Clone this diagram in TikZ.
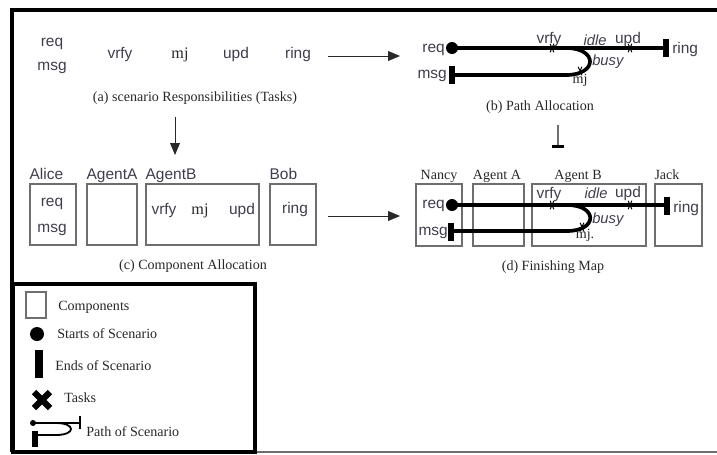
\documentclass[tikz,border=0pt]{standalone}
\usepackage{fontspec}
\setmainfont{Liberation Serif}
\newfontfamily\arialfont{Liberation Sans}
\usetikzlibrary{arrows.meta}

\definecolor{labelgray}{RGB}{62,62,78}
\definecolor{capgray}{RGB}{40,40,40}
\definecolor{boxgray}{RGB}{110,110,110}

\tikzset{
	lbl/.style={font=\arialfont\fontsize{11}{12}\selectfont, text=labelgray, inner sep=0pt},
	ilbl/.style={lbl, font=\arialfont\itshape\fontsize{10.5}{12}\selectfont},
	captxt/.style={font=\fontsize{10}{12}\selectfont, text=capgray, inner sep=0pt},
	comp/.style={draw=boxgray, line width=0.9pt, inner sep=0pt},
	scen/.style={line width=2.6pt, black},
	startdot/.style={circle, fill=black, inner sep=0pt, minimum size=0.3cm},
	endbar/.style={rectangle, fill=black, inner sep=0pt, minimum width=0.15cm, minimum height=0.45cm},
	arr/.style={-{Triangle[length=8.5pt,width=7pt]}, line width=0.6pt, capgray},
	frame/.style={line width=2.2pt, black},
	tsk/.pic={\draw[line width=0.7pt] (-1.3pt,-3pt) -- (1.3pt,3pt) (1.3pt,-3pt) -- (-1.3pt,3pt);}
}

\begin{document}
\begin{tikzpicture}[x=0.025cm, y=-0.025cm]
	\useasboundingbox (0,0) rectangle (717,454);

	% Outer frame.
	\draw[frame] (12,452) -- (12,10) -- (717,10);
	\draw[boxgray, line width=0.8pt] (255,452) -- (717,452);

	% (a) Responsibilities.
	\node[lbl, anchor=base] (reqA) at (52,46) {req};
	\node[lbl, anchor=base] (msgA) at (52,70) {msg};
	\node[lbl, anchor=base] (vrfyA) at (120,58) {vrfy};
	\node[captxt, anchor=base, font=\fontsize{11.5}{12}\selectfont] (mjA) at (180,58) {mj};
	\node[lbl, anchor=base] (updA) at (236,58) {upd};
	\node[lbl, anchor=base] (ringA) at (298,58) {ring};
	\node[captxt] (capA) at (195,98) {(a) scenario Responsibilities (Tasks)};

	% (b) Path allocation.
	\node[startdot] (reqdotB) at (452,48) {};
	\node[endbar] (ringbarB) at (666,48) {};
	\node[endbar] (msgbarB) at (452,75) {};
	\coordinate (turnB) at (566,48);
	\coordinate (backB) at (566,75);
	\draw[scen] (reqdotB.center) -- (ringbarB.center);
	\draw[scen] (turnB) .. controls (598,48) and (598,75) .. (backB) -- (msgbarB.center);
	\pic at (552,48) {tsk};
	\pic at (630,48) {tsk};
	\pic at (580,71) {tsk};
	\node[lbl, anchor=base east] (reqB) at (445,52) {req};
	\node[lbl, anchor=base east] (msgB) at (447,78) {msg};
	\node[lbl, anchor=base west] (ringB) at (672,53) {ring};
	\node[lbl, anchor=base] (vrfyB) at (549,43) {vrfy};
	\node[ilbl, anchor=base] (idleB) at (595,45) {idle};
	\node[lbl, anchor=base] (updB) at (628,43) {upd};
	\node[ilbl, anchor=base west] (busyB) at (592,65) {busy};
	\node[captxt, anchor=base] (mjB) at (580,83) {mj};
	\node[captxt] (capB) at (540,107) {(b) Path Allocation};

	% (c) Component allocation.
	\node[comp, minimum width=1.15cm, minimum height=1.525cm] (alice) at (53,214.5) {};
	\node[comp, minimum width=1.25cm, minimum height=1.525cm] (agentA) at (112,214.5) {};
	\node[comp, minimum width=2.825cm, minimum height=1.525cm] (agentB) at (202.5,214.5) {};
	\node[comp, minimum width=1.15cm, minimum height=1.525cm] (bob) at (293,214.5) {};
	\node[lbl, anchor=base west, yshift=2.5pt] at (alice.north west) {Alice};
	\node[lbl, anchor=base west, yshift=2.5pt] at (agentA.north west) {AgentA};
	\node[lbl, anchor=base west, yshift=2.5pt] at (agentB.north west) {AgentB};
	\node[lbl, anchor=base west, yshift=2.5pt] at (bob.north west) {Bob};
	\node[lbl, anchor=base] (reqC) at (52,206) {req};
	\node[lbl, anchor=base] (msgC) at (52,232) {msg};
	\node[lbl, anchor=base] (vrfyC) at (164,214) {vrfy};
	\node[captxt, anchor=base, font=\fontsize{11.5}{12}\selectfont] (mjC) at (200,214) {mj};
	\node[lbl, anchor=base] (updC) at (242,214) {upd};
	\node[lbl, anchor=base] (ringC) at (295,213) {ring};
	\node[captxt] (capC) at (193,266) {(c) Component Allocation};

	% (d) Finishing map.
	\node[comp, minimum width=1.15cm, minimum height=1.55cm] (nancy) at (439,215) {};
	\node[comp, minimum width=1.275cm, minimum height=1.55cm] (agentAd) at (498.5,215) {};
	\node[comp, minimum width=2.85cm, minimum height=1.55cm] (agentBd) at (589,215) {};
	\node[comp, minimum width=1.175cm, minimum height=1.55cm] (jack) at (678.5,215) {};
	\node[captxt, anchor=base] at (439,179) {Nancy};
	\node[captxt, anchor=base] at (497,179) {Agent A};
	\node[captxt, anchor=base] at (578,179) {Agent B};
	\node[captxt, anchor=base] at (667,179) {Jack};
	\node[startdot] (reqdotD) at (452,205) {};
	\node[endbar] (ringbarD) at (667,206) {};
	\node[endbar] (msgbarD) at (451,232) {};
	\coordinate (turnD) at (567,205);
	\coordinate (backD) at (567,231);
	\draw[scen] (reqdotD.center) -- (ringbarD.center |- reqdotD.center);
	\draw[scen] (turnD) .. controls (598,205) and (598,231) .. (backD) -- (msgbarD.center |- backD);
	\pic at (552,205) {tsk};
	\pic at (630,205) {tsk};
	\pic at (582,227) {tsk};
	\node[lbl, anchor=base east] (reqD) at (445,208) {req};
	\node[lbl, anchor=base east] (msgD) at (448,235) {msg};
	\node[lbl, anchor=base west] (ringD) at (673,212) {ring};
	\node[lbl, anchor=base] (vrfyD) at (549,198) {vrfy};
	\node[ilbl, anchor=base] (idleD) at (596,198) {idle};
	\node[lbl, anchor=base] (updD) at (628,197) {upd};
	\node[ilbl, anchor=base west] (busyD) at (592,223) {busy};
	\node[captxt, anchor=base] (mjD) at (585,238) {mj.};
	\node[captxt] (capD) at (553,267) {(d) Finishing Map};

	% Connectors between the steps.
	\coordinate (abS) at (328,56);
	\coordinate (abE) at (400,56);
	\coordinate (acS) at (175,117);
	\coordinate (acE) at (175,155);
	\coordinate (cdS) at (328,216);
	\coordinate (cdE) at (400,216);
	\coordinate (bdS) at (558,125);
	\coordinate (bdE) at (558,148);
	\draw[arr] (abS) -- (abE);
	\draw[arr] (acS) -- (acE);
	\draw[arr] (cdS) -- (cdE);
	\draw[boxgray, line width=0.8pt, -{Bar[width=9pt, line width=2pt, color=black]}] (bdS) -- (bdE);

	% Legend.
	\draw[frame, fill=white] (13,284) rectangle (255,452);
	\node[comp, minimum width=0.5cm, minimum height=0.65cm] (legComp) at (36,305) {};
	\node[startdot, minimum size=0.35cm] (legStart) at (37,334) {};
	\node[endbar, minimum width=0.2cm, minimum height=0.68cm] (legEnd) at (39,364) {};
	\node[captxt, anchor=base west] at (58,310) {Components};
	\node[captxt, anchor=base west] at (57,338) {Starts of Scenario};
	\node[captxt, anchor=base west] at (55,370) {Ends of Scenario};
	\draw[line width=4.5pt] (34,392) -- (50,408) (50,392) -- (34,408);
	\node[captxt, anchor=base west] at (64,402) {Tasks};
	\node[startdot, minimum size=0.15cm] (legDot) at (33,423) {};
	\node[endbar, minimum width=0.13cm, minimum height=0.42cm] (legBar) at (35,439) {};
	\draw[line width=1.3pt] (legDot.center) -- (80,423);
	\draw[line width=1.3pt] (56,423) .. controls (76,423) and (76,435) .. (56,435) -- (legBar.center |- 0,435);
	\draw[line width=0.9pt] (80,416) -- (80,429);
	\node[captxt, anchor=base west] at (86,436) {Path of Scenario};
\end{tikzpicture}
\end{document}
